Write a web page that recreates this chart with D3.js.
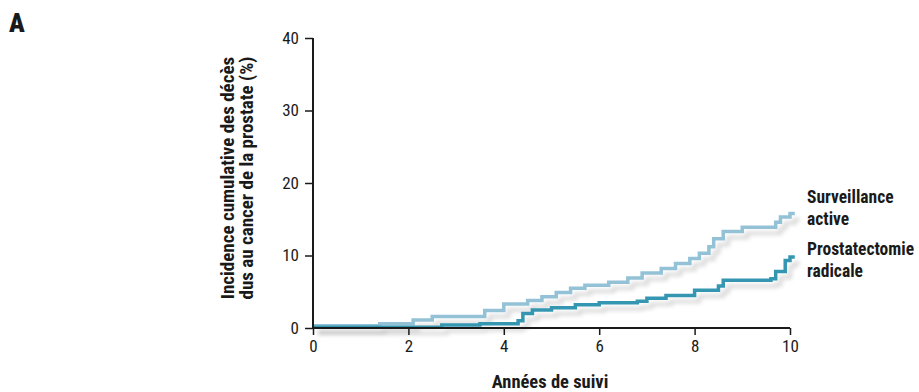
<!DOCTYPE html>
<html>
<head>
<meta charset="utf-8">
<script src="https://cdn.jsdelivr.net/npm/d3@7"></script>
<style>
  body { margin: 0; background: #fff; }
  text { font-family: "Liberation Sans Narrow", "Arial Narrow", "Roboto Condensed", sans-serif; fill: #1a1a1a; }
</style>
</head>
<body>
<div id="board"></div>
<script>
// step data: [years, cumulative %]
var surveillance = [[0,0.3],[1.4,0.6],[2.1,1.1],[2.5,1.6],[3.6,2.4],[4.0,3.3],[4.5,3.8],[4.8,4.3],[5.1,4.9],[5.4,5.5],[5.7,5.9],[6.2,6.3],[6.6,6.9],[6.9,7.6],[7.3,8.2],[7.6,8.9],[7.9,9.6],[8.1,10.3],[8.3,11.2],[8.4,12.3],[8.6,13.3],[9.0,13.9],[9.7,14.6],[9.8,15.3],[10.0,15.8],[10.1,15.8]];
var prostatectomie = [[0,0.1],[2.7,0.4],[3.5,0.6],[4.3,1.0],[4.4,2.0],[4.6,2.5],[5.0,2.8],[5.5,3.2],[6.0,3.5],[6.8,3.7],[7.0,4.1],[7.4,4.5],[8.0,5.2],[8.5,5.8],[8.6,6.6],[9.6,6.8],[9.7,7.8],[9.9,9.3],[10.0,9.8],[10.1,9.8]];
var xTicks = [0,2,4,6,8,10];
var yTicks = [0,10,20,30,40];
var seriesNames = [["Surveillance","active"],["Prostatectomie","radicale"]];

var svg = d3.select("#board").append("svg")
    .attr("width",919)
    .attr("height",392);

var defs = svg.append("defs");
var f = defs.append("filter").attr("id","shadow")
    .attr("x","-10%").attr("y","-50%").attr("width","130%").attr("height","250%");
f.append("feGaussianBlur").attr("in","SourceAlpha").attr("stdDeviation",2.2).attr("result","b");
f.append("feOffset").attr("in","b").attr("dx",5).attr("dy",6).attr("result","o");
f.append("feComponentTransfer").attr("in","o").attr("result","s")
  .append("feFuncA").attr("type","linear").attr("slope",0.16);
var m = f.append("feMerge");
m.append("feMergeNode").attr("in","s");
m.append("feMergeNode").attr("in","SourceGraphic");

var x = d3.scaleLinear().domain([0,10]).range([313,790]);
var y = d3.scaleLinear().domain([0,40]).range([328,38]);

var line = d3.line()
    .x(function(d){ return x(d[0]); })
    .y(function(d){ return y(d[1]); })
    .curve(d3.curveStepAfter);

var colors = ["#93c2d6","#3596b2"];
[surveillance, prostatectomie].forEach(function(s,i){
    svg.append("path")
        .datum(s)
        .attr("d",line)
        .attr("fill","none")
        .attr("stroke",colors[i])
        .attr("stroke-width",3.5)
        .attr("filter","url(#shadow)");
});

var xAxis = svg.append("g")
    .attr("transform","translate(0,328)")
    .call(d3.axisBottom(x).tickValues(xTicks).tickSize(7).tickPadding(5).tickFormat(d3.format("d")));
var yAxis = svg.append("g")
    .attr("transform","translate(313,0)")
    .call(d3.axisLeft(y).tickValues(yTicks).tickSize(8).tickPadding(6).tickFormat(d3.format("d")));

[xAxis,yAxis].forEach(function(a){
    a.select(".domain").attr("stroke","#1a1a1a").attr("stroke-width",2);
    a.selectAll(".tick line").attr("stroke","#1a1a1a").attr("stroke-width",1.5);
    a.selectAll(".tick text").style("font-size","17px").attr("fill","#1a1a1a");
});
xAxis.select(".domain").attr("d","M313,0H790");
yAxis.select(".domain").attr("d","M0,38V328");

// axis titles
svg.append("text")
    .attr("x",550).attr("y",388)
    .attr("text-anchor","middle")
    .style("font-size","18.5px").style("font-weight","bold")
    .text("Années de suivi");

var yt = svg.append("text")
    .attr("transform","translate(234,178) rotate(-90)")
    .attr("text-anchor","middle")
    .style("font-size","19px").style("font-weight","bold");
yt.append("tspan").attr("x",0).attr("dy",0).text("Incidence cumulative des décès");
yt.append("tspan").attr("x",0).attr("dy",19).text("dus au cancer de la prostate (%)");

// series labels
var lastVals = [surveillance[surveillance.length-1][1], prostatectomie[prostatectomie.length-1][1]];
var labelY = [y(lastVals[0]) - 10, y(lastVals[1]) - 2];
seriesNames.forEach(function(n,i){
    var t = svg.append("text")
        .attr("x",807).attr("y",labelY[i])
        .style("font-size","17.5px").style("font-weight","bold");
    t.append("tspan").attr("x",807).text(n[0]);
    t.append("tspan").attr("x",807).attr("dy",22).text(n[1]);
});

svg.append("text")
    .attr("x",9).attr("y",32)
    .style("font-size","26px").style("font-weight","900")
    .text("A");
</script>
</body>
</html>
